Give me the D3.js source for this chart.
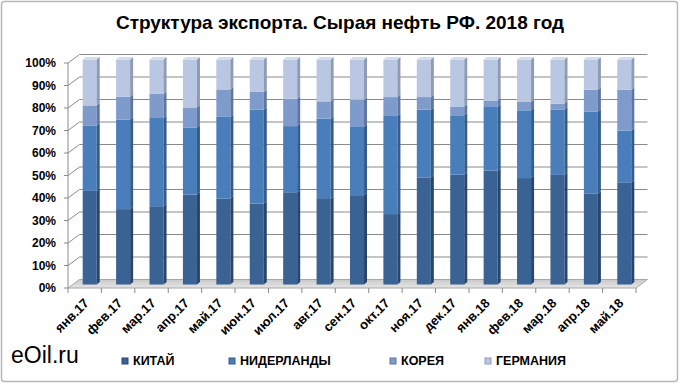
<!DOCTYPE html>
<html>
<head>
<meta charset="utf-8">
<script src="https://cdn.jsdelivr.net/npm/d3@7"></script>
<style>
  body { margin: 0; background: #fff; }
  svg { display: block; }
  .lbl { font-family: "Liberation Sans", Arial, sans-serif; font-weight: bold; fill: #000; }
</style>
</head>
<body>
<div id="chart"></div>
<script>
"use strict";

// months on the x axis
const months = ["янв.17", "фев.17", "мар.17", "апр.17", "май.17", "июн.17", "июл.17", "авг.17",
  "сен.17", "окт.17", "ноя.17", "дек.17", "янв.18", "фев.18", "мар.18", "апр.18", "май.18"];

// export shares, %
const china       = [41.6, 33.5, 34.8, 40.0, 38.2, 36.0, 41.0, 38.0, 39.7, 31.3, 47.6, 48.8, 50.6, 47.3, 48.7, 40.5, 45.4];
const netherlands = [29.1, 39.8, 39.2, 29.8, 36.3, 41.7, 29.4, 35.7, 30.3, 43.6, 30.1, 26.4, 28.3, 30.1, 29.1, 36.4, 23.0];
const korea       = [ 8.9, 10.1, 10.7,  8.9, 12.2,  7.9, 12.2,  7.7, 12.1,  8.4,  5.6,  3.9,  2.9,  3.7,  2.6,  9.7, 18.2];
const germany     = [20.4, 16.6, 15.3, 21.3, 13.3, 14.4, 17.4, 18.6, 17.9, 16.7, 16.7, 20.9, 18.2, 18.9, 19.6, 13.4, 13.4];

const seriesNames = ["КИТАЙ", "НИДЕРЛАНДЫ", "КОРЕЯ", "ГЕРМАНИЯ"];
const yTicks = [0, 10, 20, 30, 40, 50, 60, 70, 80, 90, 100];

const W = 680, H = 384;
// 3d wall depth
const DX = 11.5, DY = -8.5;

const colors = [
  {front: "#3a6394", side: "#28466d", top: "#5479a8"},
  {front: "#4a7ebb", side: "#355d8c", top: "#6d96c9"},
  {front: "#7f9bcb", side: "#5f779f", top: "#a0b5da"},
  {front: "#b9c7e2", side: "#8d9bb4", top: "#d3ddee"}
];

const svg = d3.select("#chart").append("svg").attr("width", W).attr("height", H);

// outer frame
svg.append("rect").attr("x", 1.5).attr("y", 1.5).attr("width", W - 4).attr("height", H - 4)
  .attr("rx", 3).attr("fill", "#fff").attr("stroke", "#b8b8b8").attr("stroke-width", 1.5);

svg.append("text").attr("class", "lbl")
  .attr("x", 340).attr("y", 29).attr("text-anchor", "middle")
  .style("font-size", "19px").style("font-family", "'Liberation Sans Narrow', 'Liberation Sans', sans-serif")
  .text("Структура экспорта. Сырая нефть РФ. 2018 год");

const x = d3.scaleBand().domain(months).range([68, 636]).paddingInner(0.58).paddingOuter(0.29);
const y = d3.scaleLinear().domain([0, 100]).range([288, 63]);

const defs = svg.append("defs");
const fg = defs.append("linearGradient").attr("id", "floor").attr("x1", 0).attr("x2", 0).attr("y1", 0).attr("y2", 1);
fg.append("stop").attr("offset", 0).attr("stop-color", "#c9c9c9");
fg.append("stop").attr("offset", 1).attr("stop-color", "#e6e6e6");

// back wall gridlines + side wall diagonals
const grid = svg.append("g").attr("stroke", "#8a8a8a").attr("stroke-width", 1).attr("fill", "none");
yTicks.filter(t => t > 0).forEach(t => {
  grid.append("path").attr("d", d3.line()([
    [68, y(t)], [68 + DX, y(t) + DY], [636 + DX, y(t) + DY]
  ]));
});

// floor
svg.append("path")
  .attr("d", d3.line()([[68, y(0)], [636, y(0)], [636 + DX, y(0) + DY], [68 + DX, y(0) + DY]]) + "Z")
  .attr("fill", "url(#floor)").attr("stroke", "#a6a6a6");

// left axis line + ticks
const axis = svg.append("g").attr("stroke", "#8a8a8a");
axis.append("line").attr("x1", 68).attr("x2", 68).attr("y1", y(100)).attr("y2", y(0));
yTicks.forEach(t => axis.append("line").attr("x1", 64).attr("x2", 68).attr("y1", y(t)).attr("y2", y(t)));
// x ticks at band edges
d3.range(months.length + 1).forEach(i => {
  const xx = 68 + i * x.step();
  axis.append("line").attr("x1", xx).attr("x2", xx).attr("y1", y(0)).attr("y2", y(0) + 5);
});

svg.append("g").selectAll("text").data(yTicks).join("text")
  .attr("class", "lbl").attr("x", 56).attr("y", d => y(d)).attr("dy", "0.35em")
  .attr("text-anchor", "end").style("font-size", "12px")
  .text(d => d + "%");

// stacked data
const table = months.map((m, i) => ({month: m, c0: china[i], c1: netherlands[i], c2: korea[i], c3: germany[i]}));
const stacked = d3.stack().keys(["c0", "c1", "c2", "c3"])(table);

// bars sit half-way into the depth
const bx0 = 5, by0 = -3.5, sd = 3, sdy = -2.5;
const bw = x.bandwidth();

const bars = svg.append("g");
stacked.forEach((layer, li) => {
  const col = colors[li];
  const g = bars.append("g");
  layer.forEach(d => {
    const left = x(d.data.month) + bx0;
    const yTop = y(d[1]) + by0, yBot = y(d[0]) + by0;
    g.append("rect").attr("x", left).attr("y", yTop).attr("width", bw).attr("height", yBot - yTop)
      .attr("fill", col.front);
    g.append("path").attr("d", d3.line()([
      [left + bw, yTop], [left + bw + sd, yTop + sdy], [left + bw + sd, yBot + sdy], [left + bw, yBot]
    ]) + "Z").attr("fill", col.side);
    if (li === stacked.length - 1) {
      g.append("path").attr("d", d3.line()([
        [left, yTop], [left + sd, yTop + sdy], [left + bw + sd, yTop + sdy], [left + bw, yTop]
      ]) + "Z").attr("fill", col.top);
    }
  });
});

// month labels, rotated
svg.append("g").selectAll("text").data(months).join("text")
  .attr("class", "lbl").style("font-size", "13px")
  .attr("text-anchor", "end")
  .attr("transform", d => "translate(" + (x(d) + bw / 2 + 5) + "," + (y(0) + 16) + ") rotate(-45)")
  .text(d => d);

// legend
const legX = [122, 229, 390, 485];
const leg = svg.append("g");
seriesNames.forEach((n, i) => {
  leg.append("rect").attr("x", legX[i]).attr("y", 358).attr("width", 6).attr("height", 6)
    .attr("fill", colors[i].front).attr("stroke", colors[i].side);
  leg.append("text").attr("class", "lbl").attr("x", legX[i] + 11).attr("y", 365)
    .style("font-size", "12.5px").text(n);
});

svg.append("text").attr("x", 11).attr("y", 363)
  .style("font-family", "'Liberation Sans', Arial, sans-serif").style("font-size", "23px")
  .text("eOil.ru");
</script>
</body>
</html>
